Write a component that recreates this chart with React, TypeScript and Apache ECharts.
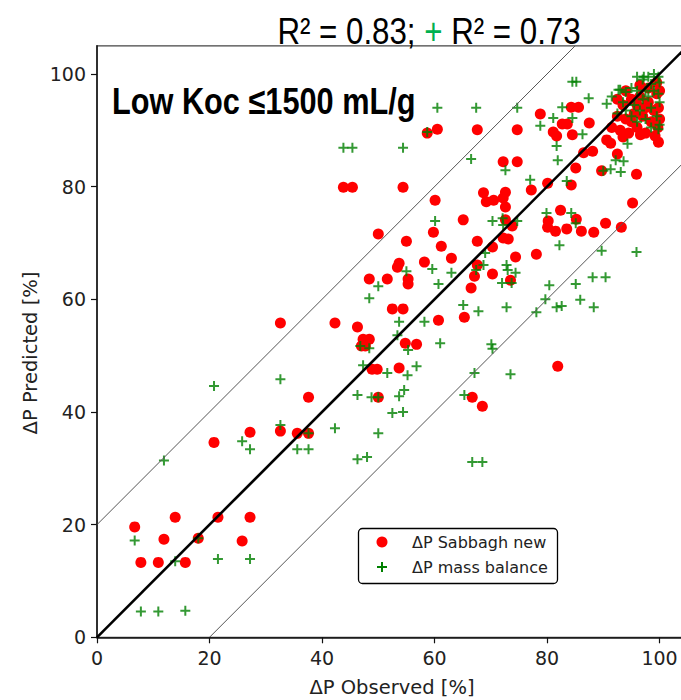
import React, { useEffect, useRef } from "react";
import * as echarts from "echarts";

// ---- data ----
const xTickValues = [0, 20, 40, 60, 80, 100];
const yTickValues = [0, 20, 40, 60, 80, 100];
const axisMax = 105;

const sabbaghNew: [number, number][] = [
  [32.6, 55.8], [37.6, 42.6], [27.2, 36.4], [20.8, 34.6], [32.6, 36.6], [35.6, 36.2], [37.6, 36.2],
  [6.7, 19.6], [13.9, 21.3], [21.5, 21.3], [27.2, 21.3], [11.9, 17.4], [18.0, 17.6], [25.8, 17.1],
  [7.8, 13.3], [10.9, 13.3], [15.7, 13.3],
  [55.0, 70.3], [61.2, 69.4], [67.6, 70.3], [70.3, 69.3], [63.0, 67.3], [58.2, 66.6], [53.7, 66.4],
  [53.4, 65.7], [67.6, 66.1], [70.3, 64.5], [67.1, 64.1], [48.4, 63.6], [51.6, 63.6], [55.3, 63.6],
  [55.3, 62.7], [66.5, 62.0], [52.5, 58.3], [54.4, 58.3], [42.3, 55.8], [46.3, 55.1], [60.7, 56.3],
  [65.3, 56.8], [47.3, 52.9], [48.4, 52.9], [47.0, 51.7], [47.7, 51.7], [54.8, 52.2], [56.8, 52.0],
  [48.9, 47.6], [49.8, 47.6], [53.7, 47.8], [50.0, 42.6], [66.7, 42.6], [68.5, 41.0],
  [95.2, 77.1], [82.4, 75.8], [72.6, 76.4], [85.2, 74.2], [80.2, 73.9], [80.1, 72.8], [81.5, 72.1],
  [83.5, 72.5], [86.1, 72.1], [88.3, 71.9], [90.4, 73.5], [93.2, 72.8], [73.1, 70.7], [74.4, 67.5],
  [78.1, 68.0], [73.5, 63.4], [81.9, 48.1], [72.6, 74.1], [73.8, 73.0],
  [78.8, 92.9], [84.3, 94.1], [85.6, 94.1], [82.7, 91.1], [83.6, 91.1], [81.1, 89.7], [81.7, 89.0],
  [84.5, 89.2], [87.5, 91.3], [74.7, 90.1], [74.7, 84.4], [72.2, 84.4], [90.6, 88.3], [91.3, 87.7],
  [92.5, 85.8], [88.1, 86.3], [86.5, 86.0], [85.1, 83.3], [95.9, 82.2], [96.6, 89.2], [99.8, 87.9],
  [89.7, 82.8], [80.1, 80.6], [77.2, 79.4], [84.3, 80.3], [72.6, 79.0], [72.2, 78.0],
  [60.5, 90.2], [67.6, 90.1], [58.7, 89.5], [43.8, 79.9], [45.4, 79.9], [54.4, 79.9], [60.1, 77.6],
  [68.7, 78.9], [69.2, 77.3], [70.5, 77.6], [65.1, 74.1], [50.0, 71.6], [59.8, 71.9], [72.2, 70.9],
  [91.5, 90.5], [92.5, 92.5], [93.0, 90.0], [93.5, 94.5], [94.0, 92.0], [94.5, 89.5], [95.0, 95.5],
  [95.5, 93.0], [96.0, 90.5], [96.5, 96.0], [97.0, 92.5], [97.5, 89.5], [98.0, 95.0], [98.5, 91.5],
  [99.0, 93.5], [99.5, 96.5], [99.7, 90.5], [99.8, 94.0], [100.0, 92.0], [99.2, 89.0], [98.0, 97.5],
  [96.5, 98.0], [94.0, 97.0], [92.5, 95.5], [97.5, 94.0], [95.0, 91.5], [93.5, 88.8], [100.0, 97.0],
  [99.5, 98.5], [96.0, 94.5],
];

const massBalance: [number, number][] = [
  [32.6, 45.8], [20.8, 44.6], [11.9, 31.4], [32.6, 37.7], [25.8, 34.8], [27.2, 33.4], [35.6, 33.4],
  [37.6, 33.4], [37.6, 36.2], [6.7, 17.2], [18.0, 17.6], [13.9, 13.5], [21.5, 13.9], [27.2, 13.9],
  [7.8, 4.6], [10.9, 4.6], [15.7, 4.7],
  [55.0, 65.0], [59.6, 65.4], [63.0, 64.7], [67.4, 65.2], [69.0, 68.2], [68.7, 66.1], [50.0, 62.3],
  [48.4, 60.2], [60.7, 62.7], [72.0, 62.9], [65.1, 59.0], [67.8, 57.9], [53.7, 56.0], [58.2, 56.0],
  [53.4, 53.6], [61.0, 52.2], [46.8, 51.7], [48.4, 51.3], [55.3, 51.0], [70.1, 52.0], [70.3, 51.2],
  [47.3, 48.3], [56.8, 48.1], [51.6, 46.9], [55.2, 46.5], [67.1, 46.9], [54.6, 43.9], [46.3, 43.0],
  [48.8, 42.6], [50.0, 42.6], [53.7, 42.8], [65.3, 43.0], [52.5, 39.8], [54.4, 40.0], [42.3, 37.1],
  [50.0, 36.2], [46.3, 31.6], [48.0, 32.0], [66.7, 31.1], [68.5, 31.1], [73.5, 46.7],
  [70.3, 73.9], [72.1, 74.4], [72.2, 73.2], [74.7, 73.9], [79.9, 75.3], [84.3, 75.3], [85.1, 73.5],
  [82.2, 69.6], [89.7, 68.6], [95.9, 68.4], [72.8, 66.1], [73.0, 65.2], [74.4, 64.7], [73.7, 62.9],
  [80.4, 62.5], [85.1, 62.7], [88.1, 63.9], [90.4, 63.9], [79.7, 60.0], [85.9, 59.9], [88.3, 58.6],
  [81.7, 58.6], [82.6, 58.8], [78.1, 57.7], [72.8, 58.6],
  [84.5, 98.6], [85.2, 98.6], [74.7, 94.0], [82.7, 94.1], [87.4, 95.7], [90.6, 94.7], [81.1, 92.2],
  [84.5, 92.2], [78.8, 90.8], [86.3, 89.3], [81.7, 87.2], [81.9, 84.7], [94.3, 87.6], [92.2, 84.7],
  [93.6, 84.5], [93.1, 82.6], [91.3, 83.1], [90.0, 82.8], [72.6, 82.9], [77.0, 81.2], [83.5, 81.0],
  [99.8, 90.2], [92.7, 97.2], [97.2, 99.5],
  [60.5, 94.0], [67.4, 94.0], [43.8, 86.9], [45.4, 86.9], [54.4, 86.9], [58.7, 89.7], [66.5, 84.9],
  [60.1, 73.9],
  [97.0, 99.0], [98.0, 99.5], [99.0, 100.0], [99.8, 99.5], [100.0, 98.5], [98.5, 98.2], [93.0, 97.2],
  [94.0, 96.8], [95.0, 97.5], [96.0, 97.0], [97.5, 97.0], [99.0, 97.0], [95.5, 94.5], [96.5, 93.5],
  [97.5, 92.0], [98.5, 94.0], [99.5, 92.5], [100.0, 95.0], [96.0, 91.5], [98.5, 90.5], [94.0, 93.5],
  [92.5, 93.0], [99.8, 96.5], [97.0, 95.5], [95.0, 92.5], [100.0, 91.0], [91.5, 96.0], [93.5, 95.0],
  [96.0, 99.5], [98.0, 96.0],
];

const oneToOneLine: [number, number][] = [[0, 0], [105, 105]];
const upperBandLine: [number, number][] = [[0, 20], [85, 105]];
const lowerBandLine: [number, number][] = [[20, 0], [105, 85]];

const seriesNames = ["ΔP Sabbagh new", "ΔP mass balance"];
const xAxisTitle = "ΔP Observed [%]";
const yAxisTitle = "ΔP Predicted [%]";
const panelTitle = "Low Koc ≤1500 mL/g";

const SANS = "'DejaVu Sans', sans-serif";
const NARROW = "'Liberation Sans', Arial, sans-serif";
const RED = "#ff0000";
const GREEN = "#008000";

export default function App() {
  const ref = useRef<HTMLDivElement>(null);

  useEffect(() => {
    if (!ref.current) return;
    const chart = echarts.init(ref.current, undefined, { renderer: "svg" });

    const gridLeft = 97;
    const gridTop = 45.8;
    const gridW = 590.7;
    const gridH = 591.5;

    const option: any = {
      animation: false,
      backgroundColor: "#ffffff",
      grid: {
        left: gridLeft,
        top: gridTop,
        width: gridW,
        height: gridH,
        show: true,
        borderColor: "#444",
        borderWidth: 1.2,
        backgroundColor: "transparent",
        containLabel: false,
        outerBoundsMode: "none",
      },
      xAxis: {
        type: "value",
        min: 0,
        max: axisMax,
        interval: 20,
        splitLine: { show: false },
        axisLine: { show: true, onZero: false, lineStyle: { color: "#111", width: 1.5 } },
        axisTick: {
          show: true,
          inside: false,
          length: 6,
          lineStyle: { color: "#111", width: 1.2 },
          customValues: xTickValues,
        },
        axisLabel: {
          color: "#222",
          fontFamily: SANS,
          fontSize: 19,
          margin: 11,
          customValues: xTickValues,
        },
      },
      yAxis: {
        type: "value",
        min: 0,
        max: axisMax,
        interval: 20,
        splitLine: { show: false },
        axisLine: { show: true, onZero: false, lineStyle: { color: "#111", width: 1.5 } },
        axisTick: {
          show: true,
          inside: false,
          length: 6,
          lineStyle: { color: "#111", width: 1.2 },
          customValues: yTickValues,
        },
        axisLabel: {
          color: "#222",
          fontFamily: SANS,
          fontSize: 19,
          margin: 11,
          customValues: yTickValues,
        },
      },
      series: [
        {
          name: seriesNames[0],
          type: "scatter",
          data: sabbaghNew,
          symbol: "circle",
          symbolSize: 11,
          itemStyle: { color: RED, opacity: 1 },
          z: 2,
        },
        {
          name: seriesNames[1],
          type: "scatter",
          data: massBalance,
          symbol: "path://M5 0V10M0 5H10",
          symbolSize: 10,
          itemStyle: { color: GREEN, borderColor: GREEN, borderWidth: 2 },
          z: 3,
        },
        {
          type: "line",
          data: upperBandLine,
          showSymbol: false,
          symbol: "none",
          lineStyle: { color: "#555", width: 1 },
          z: 4,
          silent: true,
        },
        {
          type: "line",
          data: lowerBandLine,
          showSymbol: false,
          symbol: "none",
          lineStyle: { color: "#555", width: 1 },
          z: 4,
          silent: true,
        },
        {
          type: "line",
          data: oneToOneLine,
          showSymbol: false,
          symbol: "none",
          lineStyle: { color: "#000", width: 2.6 },
          z: 5,
          silent: true,
        },
      ],
      graphic: [
        {
          type: "text",
          x: 429,
          y: 31,
          scaleX: 0.845,
          z: 100,
          style: {
            text: "{a|R² = 0.83; }{g|+}{a| R² = 0.73}",
            align: "center",
            verticalAlign: "middle",
            textAlign: "center",
            textVerticalAlign: "middle",
            rich: {
              a: { fontSize: 37, fontFamily: NARROW, fill: "#000", color: "#000" },
              g: { fontSize: 37, fontFamily: NARROW, fill: "#00b050", color: "#00b050" },
            },
          },
        },
        {
          type: "text",
          x: 112,
          y: 101,
          scaleX: 0.83,
          z: 100,
          style: {
            text: panelTitle,
            fontSize: 37,
            fontWeight: "bold",
            fontFamily: NARROW,
            fill: "#000",
            align: "left",
            verticalAlign: "middle",
            textAlign: "left",
            textVerticalAlign: "middle",
          },
        },
        {
          type: "text",
          x: 392,
          y: 687,
          z: 100,
          style: {
            text: xAxisTitle,
            fontSize: 19.5,
            fontFamily: SANS,
            fill: "#222",
            align: "center",
            verticalAlign: "middle",
            textAlign: "center",
            textVerticalAlign: "middle",
          },
        },
        {
          type: "text",
          x: 30,
          y: 353,
          rotation: Math.PI / 2,
          z: 100,
          style: {
            text: yAxisTitle,
            fontSize: 19.5,
            fontFamily: SANS,
            fill: "#222",
            align: "center",
            verticalAlign: "middle",
            textAlign: "center",
            textVerticalAlign: "middle",
          },
        },
        // legend box
        {
          type: "rect",
          z: 100,
          shape: { x: 358.5, y: 528.5, width: 199, height: 55, r: 4 },
          style: { fill: "#ffffff", stroke: "#000", lineWidth: 1.3 },
        },
        {
          type: "circle",
          z: 101,
          shape: { cx: 382, cy: 542, r: 5.5 },
          style: { fill: RED },
        },
        {
          type: "line",
          z: 101,
          shape: { x1: 377, y1: 567, x2: 387, y2: 567 },
          style: { stroke: GREEN, lineWidth: 2 },
        },
        {
          type: "line",
          z: 101,
          shape: { x1: 382, y1: 562, x2: 382, y2: 572 },
          style: { stroke: GREEN, lineWidth: 2 },
        },
        {
          type: "text",
          x: 412,
          y: 542,
          z: 101,
          style: {
            text: seriesNames[0],
            fontSize: 16,
            fontFamily: SANS,
            fill: "#222",
            align: "left",
            verticalAlign: "middle",
            textAlign: "left",
            textVerticalAlign: "middle",
          },
        },
        {
          type: "text",
          x: 412,
          y: 567,
          z: 101,
          style: {
            text: seriesNames[1],
            fontSize: 16,
            fontFamily: SANS,
            fill: "#222",
            align: "left",
            verticalAlign: "middle",
            textAlign: "left",
            textVerticalAlign: "middle",
          },
        },
      ],
    };

    chart.setOption(option);
    return () => {
      chart.dispose();
    };
  }, []);

  return (
    <div
      style={{
        position: "absolute",
        left: 0,
        top: 0,
        width: 681,
        height: 700,
        overflow: "hidden",
        background: "#fff",
      }}
    >
      <div ref={ref} style={{ width: 700, height: 700 }} />
    </div>
  );
}
